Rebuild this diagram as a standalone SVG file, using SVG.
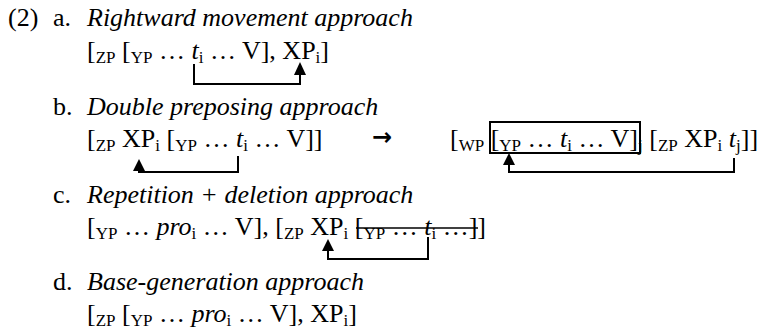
<svg xmlns="http://www.w3.org/2000/svg" width="761" height="330" viewBox="0 0 761 330">
<style>
.t{font-family:"Liberation Serif","Times New Roman",serif;font-size:26px;fill:#000}
.i{font-style:italic}
.s{font-size:17px}
.ar{font-family:"DejaVu Sans",sans-serif;font-size:24px;font-weight:bold;fill:#000}
.c{fill:none;stroke:#000;stroke-width:2}
.h{fill:#000;stroke:none}
</style>
<rect width="761" height="330" fill="#fff"/>
<g id="label">
<text class="t" x="8" y="26">(2)</text>
</g>
<g id="ex-a">
<text class="t" x="53" y="26">a.</text>
<text class="t i" x="87" y="26">Rightward movement approach</text>
<text class="t" x="87" y="59">[<tspan class="s" dy="4">ZP</tspan><tspan dy="-4"> [</tspan><tspan class="s" dy="4">YP</tspan><tspan dy="-4"> … </tspan><tspan class="i">t</tspan><tspan class="s" dy="4">i</tspan><tspan dy="-4"> … V], XP</tspan><tspan class="s" dy="4">i</tspan><tspan dy="-4">]</tspan></text>
</g>
<g id="ex-b">
<text class="t" x="53" y="115">b.</text>
<text class="t i" x="87" y="115">Double preposing approach</text>
<text class="t" x="87" y="147">[<tspan class="s" dy="4">ZP</tspan><tspan dy="-4"> XP</tspan><tspan class="s" dy="4">i</tspan><tspan dy="-4"> [</tspan><tspan class="s" dy="4">YP</tspan><tspan dy="-4"> … </tspan><tspan class="i">t</tspan><tspan class="s" dy="4">i</tspan><tspan dy="-4"> … V]]</tspan></text>
<text class="ar" x="372" y="145">→</text>
<text class="t" x="450" y="147">[<tspan class="s" dy="4">WP</tspan><tspan dy="-4"> [</tspan><tspan class="s" dy="4">YP</tspan><tspan dy="-4"> … </tspan><tspan class="i">t</tspan><tspan class="s" dy="4">i</tspan><tspan dy="-4"> … V]</tspan><tspan class="s" dy="4">j</tspan><tspan dy="-4"> [</tspan><tspan class="s" dy="4">ZP</tspan><tspan dy="-4"> XP</tspan><tspan class="s" dy="4">i</tspan><tspan dy="-4"> </tspan><tspan class="i">t</tspan><tspan class="s" dy="4">j</tspan><tspan dy="-4">]]</tspan></text>
<rect class="c" x="490" y="122" width="150" height="31"/>
</g>
<g id="ex-c">
<text class="t" x="53" y="203">c.</text>
<text class="t i" x="87" y="203">Repetition + deletion approach</text>
<text class="t" x="87" y="235">[<tspan class="s" dy="4">YP</tspan><tspan dy="-4"> … </tspan><tspan class="i">pro</tspan><tspan class="s" dy="4">i</tspan><tspan dy="-4"> … V], [</tspan><tspan class="s" dy="4">ZP</tspan><tspan dy="-4"> XP</tspan><tspan class="s" dy="4">i</tspan><tspan dy="-4"> [</tspan><tspan class="s" dy="4">YP</tspan><tspan dy="-4"> … </tspan><tspan class="i">t</tspan><tspan class="s" dy="4">i</tspan><tspan dy="-4"> …]]</tspan></text>
<line x1="356" y1="228" x2="478" y2="228" stroke="#000" stroke-width="1.6"/>
</g>
<g id="ex-d">
<text class="t" x="53" y="290">d.</text>
<text class="t i" x="87" y="290">Base-generation approach</text>
<text class="t" x="87" y="322">[<tspan class="s" dy="4">ZP</tspan><tspan dy="-4"> [</tspan><tspan class="s" dy="4">YP</tspan><tspan dy="-4"> … </tspan><tspan class="i">pro</tspan><tspan class="s" dy="4">i</tspan><tspan dy="-4"> … V], XP</tspan><tspan class="s" dy="4">i</tspan><tspan dy="-4">]</tspan></text>
</g>
<g id="connectors">
<path class="c" d="M194,64 V84 H300 V74"/>
<polygon class="h" points="300,62 294,75 306,75"/>
<path class="c" d="M238,156 V172 H139 V169"/>
<polygon class="h" points="139,159 133,171 145,171"/>
<path class="c" d="M734,158 V172 H509 V164"/>
<polygon class="h" points="509,153 503,165 515,165"/>
<path class="c" d="M428,237 V259 H328 V250"/>
<polygon class="h" points="328,239 322,251 334,251"/>
</g>
</svg>
